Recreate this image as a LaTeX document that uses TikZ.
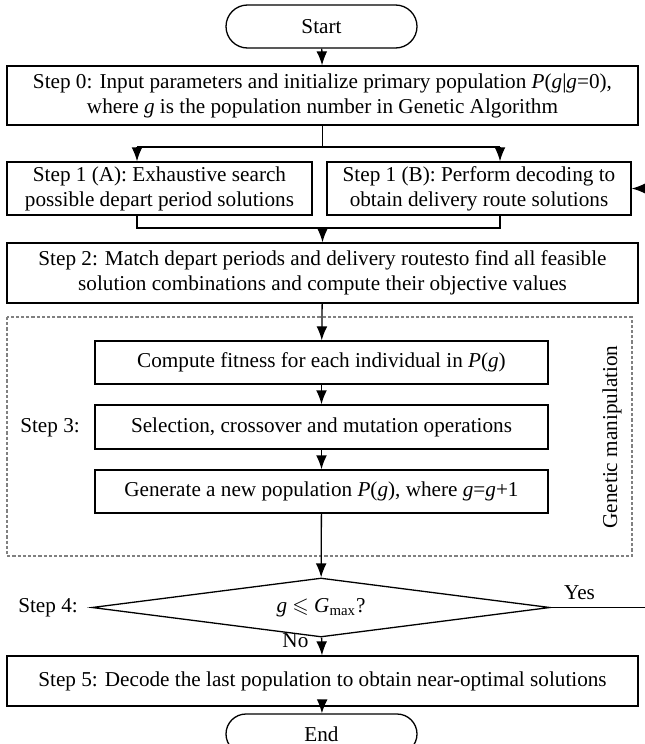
\documentclass[tikz,border=0pt]{standalone}
\usepackage{fontspec}
\setmainfont{Liberation Serif}
\usepackage{amssymb}
\usepackage{tikz}
\usetikzlibrary{shapes.geometric}
\usetikzlibrary{arrows.meta}

\begin{document}
\begin{tikzpicture}[
    x=0.5pt, y=-0.5pt,
    line width=0.65pt,
    font=\fontsize{10.6}{12.5}\selectfont,
    block/.style={draw, rectangle, align=center, inner sep=0pt},
    wideblock/.style={block, minimum width=315.5pt},
    gablock/.style={block, minimum width=226.5pt, minimum height=21.5pt},
    terminal/.style={draw, rectangle, rounded corners=10pt, minimum width=95.5pt, minimum height=20pt},
    decision/.style={draw, diamond, aspect=7.8, inner sep=0pt, minimum width=229pt, minimum height=29.5pt},
    flow/.style={-{Latex[length=7pt, width=5.4pt]}},
    gaframe/.style={dash pattern=on 1.6pt off 1pt, gray, line width=0.6pt}
]

    % Page frame
    \useasboundingbox (0,0) rectangle (644,744);

    % 1. Start and initialisation
    \node[terminal, minimum height=21.5pt, rounded corners=10.75pt] (start) at (321.5,26.5) {Start};
    \node[wideblock, minimum height=29.5pt] (s0) at (322.5,95.5)
        {Step 0: Input parameters and initialize primary population \textit{P}(\textit{g}|\textit{g}=0),\\
         where \textit{g} is the population number in Genetic Algorithm};

    % 2. The two parallel branches of step 1
    \node[block, minimum width=152.5pt, minimum height=26.5pt] (s1a) at (159.5,188.5)
        {Step 1 (A): Exhaustive search\\ possible depart period solutions};
    \node[block, minimum width=152pt, minimum height=26.5pt] (s1b) at (479,188.5)
        {Step 1 (B): Perform decoding to\\ obtain delivery route solutions};

    \node[wideblock, minimum height=30pt] (s2) at (322.5,273)
        {Step 2: Match depart periods and delivery routesto find all feasible\\
         solution combinations and compute their objective values};

    % 3. Genetic manipulation (step 3)
    \draw[gaframe] (7,317) rectangle (632,556);
    \node[gablock] (fit) at (321.5,362.5) {Compute fitness for each individual in \textit{P}(\textit{g})};
    \node[gablock, minimum height=22pt] (sel) at (321.5,427) {Selection, crossover and mutation operations};
    \node[gablock] (gen) at (321.5,491.5) {Generate a new population \textit{P}(\textit{g}), where \textit{g}=\textit{g}+1};
    \node (lab3) at (50,428) {Step 3:};
    \node[rotate=90] (galab) at (612,437) {Genetic manipulation};

    % 4. Stopping test and end
    \node[decision] (test) at (321,607.5) {\textit{g} $\leqslant$ \textit{G}\textsubscript{max}?};
    \node (lab4) at (48,607.5) {Step 4:};
    \node[wideblock, minimum height=25pt] (s5) at (322.5,681)
        {Step 5: Decode the last population to obtain near-optimal solutions};
    \node[terminal] (end) at (321.5,734) {End};

    % 5. Connectors
    \coordinate (brA) at (137,147);
    \coordinate (brB) at (500,147);
    \coordinate (jnA) at (137,228);
    \coordinate (jnB) at (500,228);
    \coordinate (loop) at (647,607.5);

    \draw[flow] (start) -- (s0);
    \draw (s0.south) -- (s0.south |- brA);
    \draw (brA) -- (brB);
    \draw[flow] (brA) -- (brA |- s1a.north);
    \draw[flow] (brB) -- (brB |- s1b.north);
    \draw (brA |- s1a.south) -- (jnA) -- (jnB) -- (brB |- s1b.south);
    \draw[flow] (s2.north |- jnA) -- (s2.north);
    \draw[flow] (s2) -- (fit);
    \draw[flow] (fit) -- (sel);
    \draw[flow] (sel) -- (gen);
    \draw[flow] (gen) -- (test);
    \draw[flow] (test) -- node[pos=0.15, left=3pt] {No} (s5);
    \draw[flow] (s5) -- (end);
    \draw[flow] (test.east) -- node[pos=0.3, above=0pt] {Yes} (loop) |- (s1b.east);

\end{tikzpicture}
\end{document}
